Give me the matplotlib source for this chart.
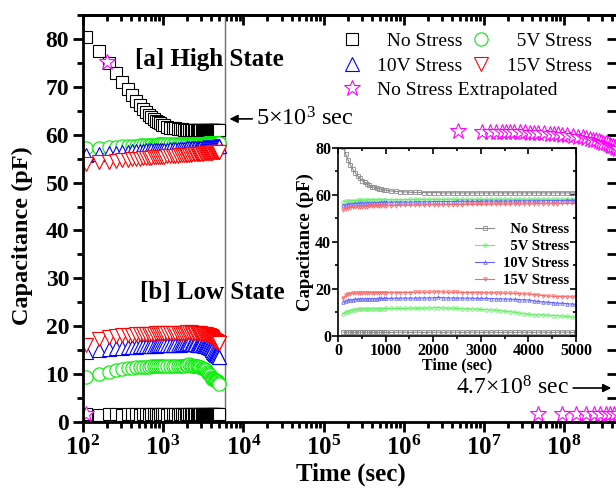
import math
import matplotlib
matplotlib.use('Agg')
import matplotlib.pyplot as plt
from matplotlib.ticker import FuncFormatter, FixedLocator, MultipleLocator, NullFormatter

plt.rcParams['font.family'] = ['Liberation Serif', 'DejaVu Serif']
plt.rcParams['mathtext.fontset'] = 'custom'
plt.rcParams['mathtext.rm'] = 'Liberation Serif'
plt.rcParams['mathtext.bf'] = 'Liberation Serif:bold'
plt.rcParams['mathtext.it'] = 'Liberation Serif:italic'

# ---------------- data ----------------
time_s = [110, 160, 210, 260, 310, 360, 410, 460, 510, 560, 610, 660, 710, 760, 810, 860, 910, 960,
          1010, 1110, 1210, 1310, 1410, 1510, 1610, 1710, 1810, 1910,
          2010, 2110, 2210, 2310, 2410, 2510, 2610, 2710, 2810, 2910,
          3010, 3110, 3210, 3310, 3410, 3510, 3610, 3710, 3810, 3910,
          4010, 4110, 4210, 4310, 4410, 4510, 4610, 4710, 4810, 4910, 5010]

ns_high = [80.5, 77.5, 75.0, 72.8, 71.0, 69.5, 68.2, 67.1, 66.1, 65.4, 64.7, 64.1, 63.6, 63.2, 62.9, 62.6, 62.4, 62.1,
           62.0, 61.7, 61.5, 61.4, 61.3, 61.2, 61.1, 61.1, 61.0, 61.0,
           61.0, 61.0, 60.9, 60.9, 60.9, 60.9, 60.9, 60.9, 60.9, 60.9,
           60.9, 60.9, 60.9, 60.9, 60.9, 60.9, 60.9, 60.9, 60.9, 60.9,
           60.9, 60.9, 60.9, 60.9, 60.9, 60.9, 60.9, 60.9, 60.9, 60.9, 60.9]
v5_high = [57.2, 57.3, 57.4, 57.5, 57.6, 57.6, 57.7, 57.7, 57.8, 57.8, 57.8, 57.9, 57.9, 57.9, 57.9, 58.0, 58.0, 58.0,
           58.0, 58.0, 58.0, 58.0, 58.0, 58.1, 58.1, 58.1, 58.1, 58.1,
           58.1, 58.1, 58.1, 58.1, 58.1, 58.1, 58.1, 58.1, 58.1, 58.1,
           58.1, 58.1, 58.1, 58.2, 58.2, 58.2, 58.2, 58.2, 58.2, 58.2,
           58.2, 58.2, 58.2, 58.2, 58.2, 58.2, 58.2, 58.2, 58.2, 58.2, 58.2]
v10_high = [55.7, 55.9, 56.1, 56.2, 56.3, 56.4, 56.5, 56.5, 56.6, 56.6, 56.7, 56.7, 56.7, 56.8, 56.8, 56.8, 56.9, 56.9,
            56.9, 56.9, 57.0, 57.0, 57.0, 57.0, 57.1, 57.1, 57.1, 57.1,
            57.2, 57.2, 57.2, 57.2, 57.2, 57.3, 57.3, 57.3, 57.3, 57.3,
            57.3, 57.4, 57.4, 57.4, 57.4, 57.4, 57.4, 57.5, 57.5, 57.5,
            57.5, 57.5, 57.5, 57.6, 57.6, 57.6, 57.6, 57.6, 57.7, 57.7, 57.7]
v15_high = [53.8, 54.2, 54.4, 54.6, 54.7, 54.8, 54.9, 55.0, 55.0, 55.1, 55.1, 55.2, 55.2, 55.3, 55.3, 55.3, 55.4, 55.4,
            55.4, 55.5, 55.5, 55.6, 55.6, 55.6, 55.7, 55.7, 55.7, 55.8,
            55.8, 55.8, 55.8, 55.9, 55.9, 55.9, 55.9, 56.0, 56.0, 56.0,
            56.0, 56.0, 56.1, 56.1, 56.1, 56.1, 56.1, 56.2, 56.2, 56.2,
            56.2, 56.2, 56.3, 56.3, 56.3, 56.3, 56.3, 56.4, 56.4, 56.4, 56.4]

ns_low = [1.6, 1.5, 1.6, 1.6, 1.5, 1.6, 1.6, 1.6, 1.5, 1.6, 1.6, 1.5, 1.6, 1.6, 1.6, 1.5, 1.6, 1.6,
          1.6, 1.5, 1.6, 1.6, 1.6, 1.5, 1.6, 1.6, 1.5, 1.6,
          1.6, 1.6, 1.5, 1.6, 1.6, 1.6, 1.5, 1.6, 1.6, 1.6,
          1.5, 1.6, 1.6, 1.6, 1.5, 1.6, 1.6, 1.5, 1.6, 1.6,
          1.6, 1.5, 1.6, 1.6, 1.6, 1.5, 1.6, 1.6, 1.6, 1.5, 1.6]
v5_low = [9.3, 10.1, 10.4, 10.8, 11.0, 11.2, 11.3, 11.4, 11.4, 11.5, 11.5, 11.5, 11.6, 11.6, 11.6, 11.6, 11.6, 11.6,
          11.7, 11.7, 11.7, 11.7, 11.7, 11.8, 11.8, 11.8, 11.8, 11.9,
          12.0, 12.1, 11.9, 11.8, 11.8, 11.7, 11.6, 11.6, 11.5, 11.4,
          11.3, 11.2, 11.1, 11.0, 10.8, 10.5, 10.3, 10.1, 9.8, 9.5,
          9.2, 9.0, 8.9, 9.0, 8.8, 8.7, 8.6, 8.5, 8.3, 8.1, 7.9]
v10_low = [14.6, 15.0, 15.2, 15.4, 15.5, 15.6, 15.7, 15.7, 15.8, 15.8, 15.8, 15.9, 15.9, 15.9, 15.9, 16.0, 16.0, 16.0,
           16.0, 16.0, 16.1, 16.1, 16.1, 16.1, 16.1, 16.2, 16.2, 16.2,
           16.3, 16.4, 16.3, 16.2, 16.2, 16.2, 16.1, 16.1, 16.1, 16.0,
           16.0, 16.0, 15.9, 15.9, 15.8, 15.8, 15.7, 15.6, 15.5, 15.4,
           15.3, 15.0, 14.7, 14.5, 14.3, 14.2, 14.0, 13.9, 13.8, 13.6, 13.5]
v15_low = [16.0, 17.3, 17.8, 18.0, 18.1, 18.2, 18.2, 18.3, 18.3, 18.3, 18.4, 18.4, 18.4, 18.4, 18.5, 18.5, 18.5, 18.5,
           18.5, 18.5, 18.5, 18.5, 18.5, 18.5, 18.6, 18.6, 18.6, 18.6,
           18.7, 18.8, 18.7, 18.6, 18.6, 18.6, 18.5, 18.5, 18.5, 18.5,
           18.4, 18.4, 18.4, 18.3, 18.3, 18.2, 18.2, 18.1, 18.0, 17.9,
           17.8, 17.6, 17.4, 17.2, 17.0, 16.9, 16.8, 16.8, 16.7, 16.6, 16.5]

ext_time_high = [200, 4.7e6, 9.4e6, 1.2e7, 1.4e7, 1.7e7, 1.9e7, 2.1e7, 2.4e7, 2.8e7, 3.3e7, 3.8e7, 4.2e7,
                 4.7e7, 5.6e7, 6.6e7, 7.5e7, 8.5e7, 9.4e7, 1.1e8, 1.3e8, 1.5e8, 1.7e8, 1.9e8, 2.1e8,
                 2.3e8, 2.5e8, 2.7e8, 2.9e8, 3.1e8, 3.3e8, 3.5e8, 3.7e8, 3.9e8, 4.1e8, 4.3e8, 4.5e8, 4.7e8]
ext_high = [75.2, 60.7, 60.66, 60.64, 60.63, 60.6, 60.59, 60.57, 60.55, 60.52, 60.48, 60.44, 60.41,
            60.37, 60.3, 60.23, 60.15, 60.08, 60.01, 59.88, 59.73, 59.57, 59.42, 59.26, 59.11,
            58.95, 58.8, 58.64, 58.49, 58.33, 58.18, 58.02, 57.87, 57.71, 57.56, 57.4, 57.25, 57.1]
ext_time_low = [110, 4.7e7, 9.4e7, 1.41e8, 1.88e8, 2.35e8, 2.82e8, 3.29e8, 3.76e8, 4.23e8, 4.7e8]
ext_low = [1.7, 1.6, 1.6, 1.6, 1.6, 1.6, 1.6, 1.6, 1.6, 1.6, 1.6]

series_labels = ['No Stress', '5V Stress', '10V Stress', '15V Stress']
ext_label = 'No Stress Extrapolated'
x_decades = [1e2, 1e3, 1e4, 1e5, 1e6, 1e7, 1e8]

# ---------------- figure ----------------
fig = plt.figure(figsize=(6.16, 4.91), dpi=100)
ax = fig.add_axes([0.1347, 0.1405, 0.8685, 0.829])

ms_main = 9
styles = [dict(marker='s', mec='black', ms=ms_main),
          dict(marker='o', mec='#00ee00', ms=ms_main + 0.5),
          dict(marker='^', mec='#0000ff', ms=ms_main + 1),
          dict(marker='v', mec='#ff0000', ms=ms_main + 1)]
highs = [ns_high, v5_high, v10_high, v15_high]
lows = [ns_low, v5_low, v10_low, v15_low]

handles = []
for st, yh, yl, lab in zip(styles, highs, lows, series_labels):
    h, = ax.plot(time_s, yh, ls='none', mfc='white', mew=0.8, label=lab, **st)
    ax.plot(time_s, yl, ls='none', mfc='white', mew=0.8, **st)
    handles.append(h)

hs, = ax.plot(ext_time_high, ext_high, ls='none', marker='*', ms=12, mfc='white',
              mec='#ff00ff', mew=0.8, label=ext_label)
ax.plot(ext_time_low, ext_low, ls='none', marker='*', ms=12, mfc='white',
        mec='#ff00ff', mew=0.8)

ax.axvline(5.9e3, color='#6e6e6e', lw=1.0, zorder=1)

ax.set_xscale('log')
ax.set_xlim(100, 4.7e8)
ax.set_ylim(0, 85)

minor_x = [d * k for d in [1e2, 1e3, 1e4, 1e5, 1e6, 1e7, 1e8] for k in range(2, 10) if d * k <= 4.7e8]
ax.xaxis.set_major_locator(FixedLocator(x_decades))
ax.xaxis.set_minor_locator(FixedLocator(minor_x))
ax.xaxis.set_minor_formatter(NullFormatter())
ax.xaxis.set_major_formatter(FuncFormatter(lambda v, p: r'$\mathbf{10^{%d}}$' % round(math.log10(v))))
ax.yaxis.set_major_locator(MultipleLocator(10))
ax.yaxis.set_minor_locator(MultipleLocator(5))

for s in ax.spines.values():
    s.set_linewidth(2)
ax.tick_params(axis='both', which='major', direction='out', length=7, width=2, labelsize=18, pad=3)
ax.tick_params(axis='both', which='minor', direction='out', length=4, width=2)
for lab in ax.get_yticklabels():
    lab.set_fontweight('bold')
ax.tick_params(axis='y', labelsize=17)

# mirrored inward ticks on top and right
axt = ax.secondary_xaxis('top')
axt.xaxis.set_major_locator(FixedLocator(x_decades))
axt.xaxis.set_minor_locator(FixedLocator(minor_x))
axt.tick_params(which='major', direction='in', length=7, width=2, labeltop=False)
axt.tick_params(which='minor', direction='in', length=4, width=2)
axt.spines['top'].set_linewidth(2)
axr = ax.secondary_yaxis('right')
axr.yaxis.set_major_locator(MultipleLocator(10))
axr.yaxis.set_minor_locator(MultipleLocator(5))
axr.tick_params(which='major', direction='in', length=8, width=2, labelright=False)
axr.tick_params(which='minor', direction='in', length=8, width=2)

ax.set_xlabel('Time (sec)', fontsize=18, fontweight='bold', labelpad=2)
ax.set_ylabel('Capacitance (pF)', fontsize=17.5, fontweight='bold')
ax.yaxis.set_label_coords(-0.094, 0.459)

ax.text(450, 75.8, '[a] High State', fontsize=18, fontweight='bold', va='center', ha='left')
ax.text(520, 27.1, '[b] Low State', fontsize=18, fontweight='bold', va='center', ha='left')

ax.annotate('', xy=(6.2e3, 63.3), xytext=(1.4e4, 63.3),
            arrowprops=dict(arrowstyle='-|>', color='black', lw=1.2, mutation_scale=12))
ax.text(1.45e4, 63.3, '5×10$^{3}$ sec', fontsize=17.5, va='center', ha='left')
ax.annotate('', xy=(4.2e8, 7.1), xytext=(1.2e8, 7.1),
            arrowprops=dict(arrowstyle='-|>', color='black', lw=1.2, mutation_scale=12))
ax.text(1.15e8, 7.1, '4.7×10$^{8}$ sec', fontsize=17, va='center', ha='right')

pad = '\u2002'
leg1 = ax.legend([handles[0], handles[2], handles[1], handles[3]],
                 [pad + 'No Stress', '10V Stress', pad + '5V Stress', '15V Stress'],
                 loc='upper left', bbox_to_anchor=(0.485, 0.958), ncol=2, frameon=False,
                 fontsize=14, handlelength=1.0, handletextpad=0.8, columnspacing=0.45,
                 labelspacing=0.4, borderpad=0, borderaxespad=0)
ax.add_artist(leg1)
leg2 = ax.legend([hs], [ext_label], loc='upper left', bbox_to_anchor=(0.485, 0.838),
                 frameon=False, fontsize=14, handlelength=1.0, handletextpad=0.8,
                 borderpad=0, borderaxespad=0)

# ---------------- inset ----------------
axi = fig.add_axes([0.5487, 0.3157, 0.3864, 0.3829])
in_colors = ['#8a8a8a', '#66ee66', '#6666ff', '#ff6666']
in_markers = ['s', 'o', '^', 'v']
in_handles = []
for c, m, yh, yl, lab in zip(in_colors, in_markers, highs, lows, series_labels):
    h, = axi.plot(time_s, yh, color=c, lw=0.8, marker=m, ms=2.5, mfc='none', mew=0.6, label=lab)
    axi.plot(time_s, yl, color=c, lw=0.8, marker=m, ms=2.5, mfc='none', mew=0.6)
    in_handles.append(h)
axi.set_xlim(0, 5000)
axi.set_ylim(0, 80)
axi.xaxis.set_major_locator(MultipleLocator(1000))
axi.xaxis.set_minor_locator(MultipleLocator(500))
axi.yaxis.set_major_locator(MultipleLocator(20))
axi.yaxis.set_minor_locator(MultipleLocator(10))
for s in axi.spines.values():
    s.set_linewidth(1.2)
axi.tick_params(axis='both', which='major', direction='out', length=4, width=1.2, labelsize=11.5, pad=1)
axi.tick_params(axis='both', which='minor', direction='out', length=2.5, width=1.2)
for lab in axi.get_xticklabels() + axi.get_yticklabels():
    lab.set_fontweight('bold')
axit = axi.secondary_xaxis('top')
axit.xaxis.set_major_locator(MultipleLocator(1000))
axit.xaxis.set_minor_locator(MultipleLocator(500))
axit.tick_params(which='major', direction='in', length=4, width=1.2, labeltop=False)
axit.tick_params(which='minor', direction='in', length=2.5, width=1.2)
axir = axi.secondary_yaxis('right')
axir.yaxis.set_major_locator(MultipleLocator(20))
axir.yaxis.set_minor_locator(MultipleLocator(10))
axir.tick_params(which='major', direction='in', length=4, width=1.2, labelright=False)
axir.tick_params(which='minor', direction='in', length=2.5, width=1.2)
axi.set_xlabel('Time (sec)', fontsize=11.5, fontweight='bold', labelpad=-1)
axi.set_ylabel('Capacitance (pF)', fontsize=13.5, fontweight='bold', labelpad=1)
axi.legend(in_handles, [pad + 'No Stress', pad + '5V Stress', '10V Stress', '15V Stress'],
           loc='upper right', bbox_to_anchor=(0.97, 0.6), frameon=False,
           prop=dict(size=10.5, weight='bold'), handlelength=1.3, handletextpad=0.6,
           labelspacing=0.25, borderpad=0, borderaxespad=0)

fig.savefig('out.png', dpi=100)
